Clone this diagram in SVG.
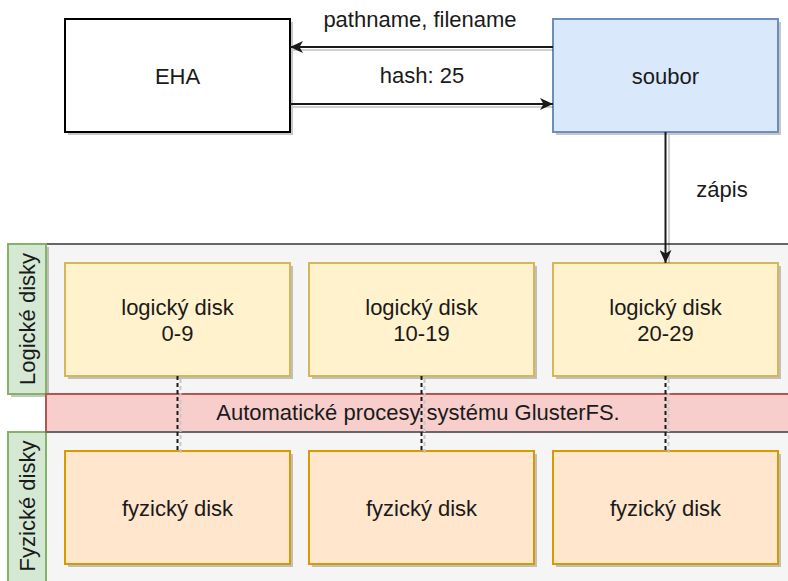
<svg xmlns="http://www.w3.org/2000/svg" width="788" height="581" viewBox="0 0 788 581">
<defs>
<style>
text{font-family:"Liberation Sans",Arial,Helvetica,sans-serif;font-size:22px;fill:#1a1a1a;text-anchor:middle}
.sh{fill:#000;fill-opacity:0.22;stroke:none}
.shl{stroke:#000;stroke-opacity:0.18;fill:none;stroke-width:2}
.eha{fill:#fff;stroke:#000;stroke-width:2}
.file{fill:#dae8fc;stroke:#6c8ebf;stroke-width:2}
.log{fill:#fff2cc;stroke:#d6b656;stroke-width:2}
.phy{fill:#ffe6cc;stroke:#d79b00;stroke-width:2}
.lane{fill:#d5e8d4;stroke:#82b366;stroke-width:2}
.cont{fill:#f5f5f5;stroke:#666;stroke-width:2}
.band{fill:#f8cecc;stroke:#b85450;stroke-width:2}
.edge{stroke:#1a1a1a;stroke-width:2;fill:none}
.dash{stroke:#1a1a1a;stroke-width:2;fill:none;stroke-dasharray:4 3}
</style>
<marker id="arr" markerUnits="userSpaceOnUse" markerWidth="14" markerHeight="12" refX="13" refY="6" orient="auto">
<path d="M0,0 L13,6 L0,12 L3.5,6 z" fill="#1a1a1a"/>
</marker>
</defs>

<g id="container">
<rect class="cont" x="46" y="244" width="760" height="150"/>
<rect class="cont" x="46" y="432" width="760" height="160"/>
</g>

<g id="lane-logical">
<rect class="sh" x="11" y="247" width="38" height="150"/>
<rect class="lane" x="8" y="244" width="38" height="150"/>
<text transform="translate(35,319) rotate(-90)">Logické disky</text>
</g>
<g id="lane-physical">
<rect class="lane" x="8" y="432" width="38" height="160"/>
<text transform="translate(35,506) rotate(-90)">Fyzické disky</text>
</g>

<g id="band">
<rect class="band" x="46" y="394" width="760" height="38"/>
<line x1="46" y1="432" x2="806" y2="432" stroke="#666" stroke-width="2"/>
<text x="418" y="420">Automatické procesy systému GlusterFS.</text>
</g>

<g id="EHA">
<rect class="sh" x="68" y="22" width="225" height="113"/>
<rect class="eha" x="65" y="19" width="225" height="113"/>
<text x="177.5" y="84">EHA</text>
</g>
<g id="soubor">
<rect class="sh" x="556" y="22" width="225" height="113"/>
<rect class="file" x="553" y="19" width="225" height="113"/>
<text x="665.5" y="84">soubor</text>
</g>

<g id="log1">
<rect class="sh" x="68" y="266" width="225" height="113"/>
<rect class="log" x="65" y="263" width="225" height="113"/>
<text x="177.5" y="315">logický disk</text>
<text x="177.5" y="341">0-9</text>
</g>
<g id="log2">
<rect class="sh" x="312" y="266" width="225" height="113"/>
<rect class="log" x="309" y="263" width="225" height="113"/>
<text x="421.5" y="315">logický disk</text>
<text x="421.5" y="341">10-19</text>
</g>
<g id="log3">
<rect class="sh" x="556" y="266" width="225" height="113"/>
<rect class="log" x="553" y="263" width="225" height="113"/>
<text x="665.5" y="315">logický disk</text>
<text x="665.5" y="341">20-29</text>
</g>

<g id="phy1">
<rect class="sh" x="68" y="454" width="225" height="113"/>
<rect class="phy" x="65" y="451" width="225" height="113"/>
<text x="177.5" y="516">fyzický disk</text>
</g>
<g id="phy2">
<rect class="sh" x="312" y="454" width="225" height="113"/>
<rect class="phy" x="309" y="451" width="225" height="113"/>
<text x="421.5" y="516">fyzický disk</text>
</g>
<g id="phy3">
<rect class="sh" x="556" y="454" width="225" height="113"/>
<rect class="phy" x="553" y="451" width="225" height="113"/>
<text x="665.5" y="516">fyzický disk</text>
</g>

<g id="connectors">
<line class="shl" x1="553" y1="50" x2="293" y2="50"/>
<line class="edge" x1="553" y1="47" x2="290" y2="47" marker-end="url(#arr)"/>
<text x="420" y="27">pathname, filename</text>
<line class="shl" x1="293" y1="107" x2="553" y2="107"/>
<line class="edge" x1="290" y1="104" x2="553" y2="104" marker-end="url(#arr)"/>
<text x="422" y="83">hash: 25</text>
<line class="shl" x1="669" y1="135" x2="669" y2="263"/>
<line class="edge" x1="665.5" y1="132" x2="665.5" y2="263" marker-end="url(#arr)"/>
<text x="722" y="197">zápis</text>
<line class="dash" x1="180.5" y1="379" x2="180.5" y2="454" stroke="#bbb" style="stroke:#c8c8c8"/>
<line class="dash" x1="177.5" y1="376" x2="177.5" y2="451"/>
<line class="dash" x1="424.5" y1="379" x2="424.5" y2="454" style="stroke:#c8c8c8"/>
<line class="dash" x1="421.5" y1="376" x2="421.5" y2="451"/>
<line class="dash" x1="668.5" y1="379" x2="668.5" y2="454" style="stroke:#c8c8c8"/>
<line class="dash" x1="665.5" y1="376" x2="665.5" y2="451"/>
</g>
</svg>
